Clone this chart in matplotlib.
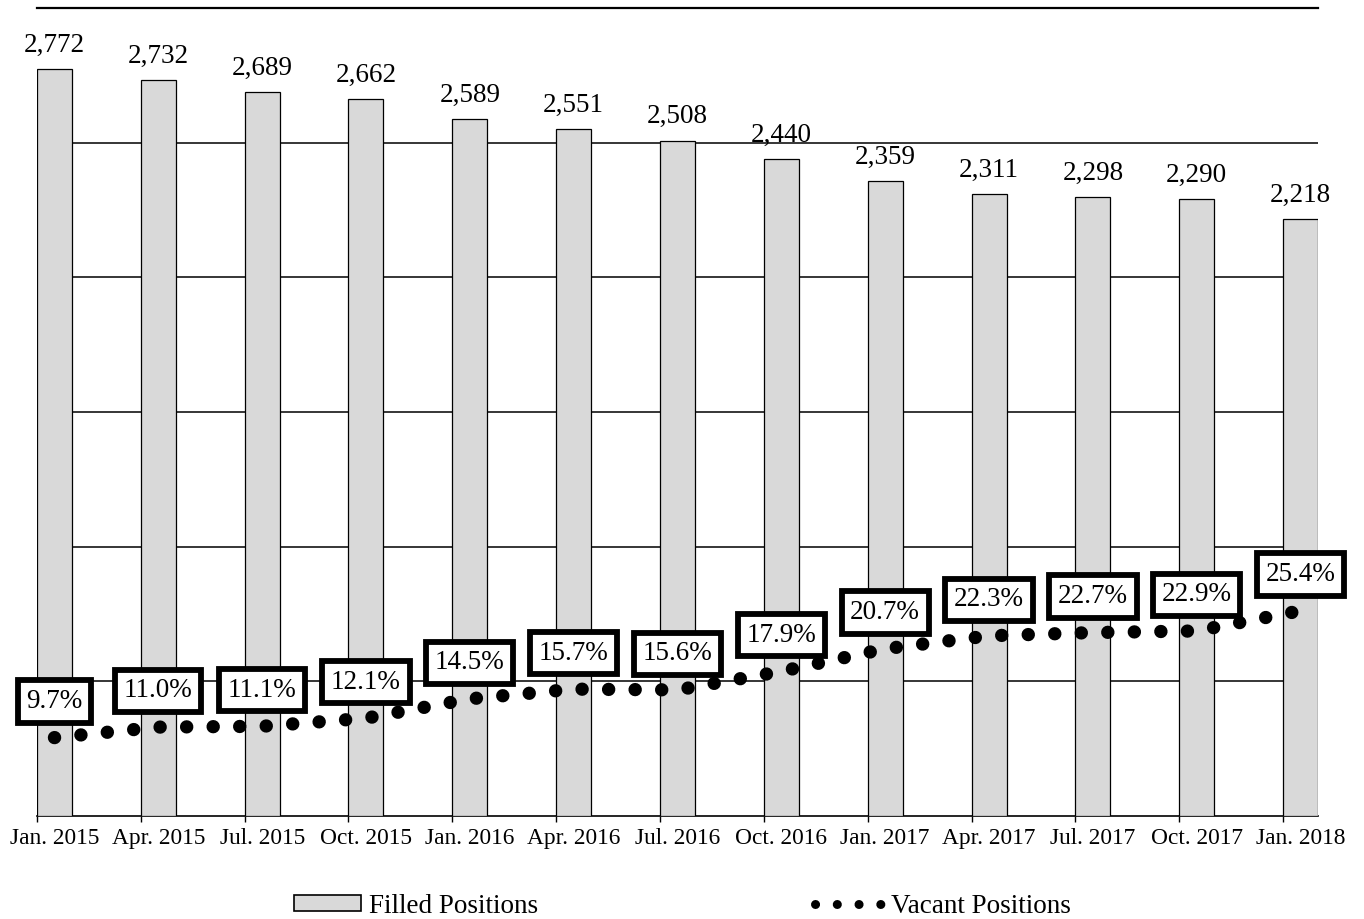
import numpy as np
import matplotlib
matplotlib.use("Agg")
from matplotlib import pyplot as plt
from matplotlib.lines import Line2D
from matplotlib.patches import Patch

plt.rcParams['font.family'] = ['Liberation Serif', 'DejaVu Serif']

# * Data

quarters = ['Jan. 2015', 'Apr. 2015', 'Jul. 2015', 'Oct. 2015', 'Jan. 2016',
            'Apr. 2016', 'Jul. 2016', 'Oct. 2016', 'Jan. 2017', 'Apr. 2017',
            'Jul. 2017', 'Oct. 2017', 'Jan. 2018']
filled = [2772, 2732, 2689, 2662, 2589, 2551, 2508, 2440, 2359, 2311, 2298, 2290, 2218]
vacant_pct = [9.7, 11.0, 11.1, 12.1, 14.5, 15.7, 15.6, 17.9, 20.7, 22.3, 22.7, 22.9, 25.4]

# * Plot

fig = plt.figure(figsize=(13.64, 9.19), dpi=100)
ax = fig.add_axes([0.0271, 0.1121, 0.9392, 0.8792])

w = 0.337                      # bar width in category units
x = np.arange(len(quarters))
xc = x + w / 2                 # bar centres

ax.bar(x, filled, width=w, align='edge', color='#d9d9d9',
       edgecolor='black', linewidth=0.9, zorder=3)
for g in range(500, 3000, 500):
    ax.axhline(g, color='black', linewidth=1.1, zorder=1)

for xi, v in zip(xc, filled):
    ax.annotate(f'{v:,}', (xi, v), xytext=(0, 8), textcoords='offset points',
                ha='center', va='bottom', fontsize=19.5)

ax.set_xlim(0, len(quarters) - 1 + w)
ax.set_ylim(0, 3000)
ax.set_yticks([])
ax.set_xticks(x)
ax.set_xticklabels([])
ax.tick_params(axis='x', which='major', length=4.5, width=1, color='black')
ax.set_xticks(xc, minor=True)
ax.set_xticklabels(quarters, minor=True, fontsize=16.8)
ax.tick_params(axis='x', which='minor', length=0, pad=9)
for s in ('left', 'right'):
    ax.spines[s].set_visible(False)
ax.spines['top'].set_linewidth(1.6)
ax.spines['bottom'].set_linewidth(1.2)

# vacancy rate on its own 0-100 % scale
ax2 = ax.twinx()
ax2.set_ylim(0, 100)
ax2.set_yticks([])
for s in ax2.spines.values():
    s.set_visible(False)
ax2.plot(xc, vacant_pct, color='black', linewidth=9.6,
         linestyle=(0, (0.01, 1.98)), dash_capstyle='round', zorder=2)
for xi, p in zip(xc, vacant_pct):
    ax2.annotate(f'{p:.1f}%', (xi, p), xytext=(0, 26), textcoords='offset points',
                 ha='center', va='center', fontsize=19.5, zorder=4,
                 bbox=dict(boxstyle='square,pad=0.32', facecolor='white',
                           edgecolor='black', linewidth=4.2))

handles = [Patch(facecolor='#d9d9d9', edgecolor='black', linewidth=1.2),
           Line2D([], [], color='black', linewidth=6.5,
                  linestyle=(0, (0.01, 2.4)), dash_capstyle='round')]
fig.legend(handles, ['Filled Positions', 'Vacant Positions'], loc='center',
           bbox_to_anchor=(0.5, 0.0141), ncol=2, frameon=False, fontsize=19.5,
           handlelength=2.5, handleheight=0.55, handletextpad=0.3,
           columnspacing=10.2, borderpad=0)

fig.savefig('out.png', dpi=100)
